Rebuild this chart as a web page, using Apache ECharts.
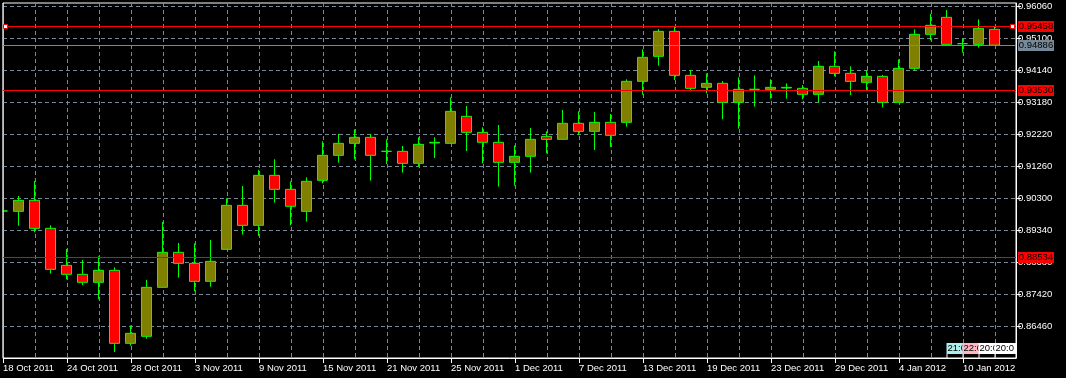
<!DOCTYPE html>
<html>
<head>
<meta charset="utf-8">
<script src="https://cdn.jsdelivr.net/npm/echarts@6/dist/echarts.min.js"></script>
<style>
html,body{margin:0;padding:0;background:#000;overflow:hidden;}
#c{width:1066px;height:378px;}
</style>
</head>
<body>
<div id="c"></div>
<script>
// ---------- DATA ----------
const dates = ['18 Oct 2011','19 Oct 2011','20 Oct 2011','21 Oct 2011','24 Oct 2011','25 Oct 2011','26 Oct 2011','27 Oct 2011','28 Oct 2011','31 Oct 2011',
'1 Nov 2011','2 Nov 2011','3 Nov 2011','4 Nov 2011','7 Nov 2011','8 Nov 2011','9 Nov 2011','10 Nov 2011','11 Nov 2011','14 Nov 2011',
'15 Nov 2011','16 Nov 2011','17 Nov 2011','18 Nov 2011','21 Nov 2011','22 Nov 2011','23 Nov 2011','24 Nov 2011','25 Nov 2011','28 Nov 2011',
'29 Nov 2011','30 Nov 2011','1 Dec 2011','2 Dec 2011','5 Dec 2011','6 Dec 2011','7 Dec 2011','8 Dec 2011','9 Dec 2011','12 Dec 2011',
'13 Dec 2011','14 Dec 2011','15 Dec 2011','16 Dec 2011','19 Dec 2011','20 Dec 2011','21 Dec 2011','22 Dec 2011','23 Dec 2011','26 Dec 2011',
'27 Dec 2011','28 Dec 2011','29 Dec 2011','30 Dec 2011','2 Jan 2012','3 Jan 2012','4 Jan 2012','5 Jan 2012','6 Jan 2012','9 Jan 2012',
'10 Jan 2012','11 Jan 2012','12 Jan 2012'];

const opens = [0.8991,0.8990,0.9023,0.8939,0.8828,0.8801,0.8777,0.8813,0.8594,0.8615,
0.8762,0.8867,0.8834,0.8780,0.8876,0.9008,0.8948,0.9098,0.9056,0.8990,
0.9083,0.9158,0.9194,0.9212,0.9170,0.9170,0.9134,0.9195,0.9194,0.9275,
0.9227,0.9197,0.9137,0.9155,0.9215,0.9206,0.9254,0.9230,0.9257,0.9257,
0.9380,0.9455,0.9530,0.9398,0.9362,0.9374,0.9317,0.9356,0.9356,0.9360,
0.9359,0.9341,0.9425,0.9404,0.9377,0.9395,0.9317,0.9419,0.9521,0.9572,
0.9493,0.9491,0.9536];

const closes = [0.8991,0.9023,0.8939,0.8816,0.8801,0.8777,0.8813,0.8594,0.8624,0.8762,
0.8867,0.8834,0.8780,0.8840,0.9008,0.8948,0.9098,0.9056,0.9005,0.9080,
0.9158,0.9194,0.9212,0.9158,0.9170,0.9134,0.9191,0.9197,0.9290,0.9227,
0.9197,0.9137,0.9155,0.9206,0.9206,0.9254,0.9230,0.9257,0.9218,0.9380,
0.9452,0.9530,0.9398,0.9359,0.9374,0.9317,0.9356,0.9356,0.9362,0.9362,
0.9341,0.9425,0.9404,0.9380,0.9395,0.9317,0.9419,0.9521,0.9548,0.9491,
0.9493,0.9539,0.94886];

const lows = [0.8991,0.8947,0.8927,0.8803,0.8786,0.8769,0.8726,0.8568,0.8587,0.8608,
0.8762,0.8791,0.8750,0.8764,0.8876,0.8920,0.8916,0.9016,0.8948,0.8959,
0.9074,0.9136,0.9146,0.9082,0.9132,0.9106,0.9124,0.9150,0.9194,0.9171,
0.9134,0.9064,0.9067,0.9106,0.9164,0.9206,0.9220,0.9174,0.9183,0.9244,
0.9340,0.9427,0.9384,0.9350,0.9344,0.9266,0.9238,0.9304,0.9328,0.9328,
0.9326,0.9317,0.9395,0.9339,0.9354,0.9302,0.9317,0.9413,0.9503,0.9491,
0.9466,0.9481,0.9486];

const highs = [0.8991,0.9036,0.9081,0.8948,0.8877,0.8844,0.8855,0.8822,0.8648,0.8784,
0.8958,0.8895,0.8894,0.8904,0.9029,0.9066,0.9114,0.9146,0.9080,0.9092,
0.9200,0.9222,0.9236,0.9222,0.9206,0.9186,0.9212,0.9212,0.9332,0.9306,
0.9242,0.9249,0.9188,0.9240,0.9230,0.9294,0.9290,0.9288,0.9282,0.9386,
0.9476,0.9537,0.9546,0.9414,0.9404,0.9381,0.9392,0.9398,0.9386,0.9374,
0.9369,0.9441,0.9470,0.9425,0.9413,0.9399,0.9446,0.9536,0.9582,0.9594,
0.9508,0.9566,0.9545];

// price-axis tick labels
const yTickValues = [0.86460,0.87420,0.88380,0.89340,0.90300,0.91260,0.92220,0.93180,0.94140,0.95100,0.96060];
// horizontal price lines (levels and bid)
const hLineValues = [0.95458, 0.94886, 0.93530, 0.88534];
// vertical-line time tags at the bottom right
const tagBars = [59, 60, 61, 62];
const tagLabels = ['21:00', '22:00', '20:00', '20:00'];

// ---------- STYLE ----------
const hLineColors = ['#ff0000', '#778899', '#ff0000', '#ff0000'];
const tagColors = ['#afeeee', '#ffb6c1', '#ffffff', '#ffffff'];
const FONT = 'Liberation Sans, Arial, sans-serif';
const FS = 9.5;
const GRIDC = '#778899';

const X_MIN = 1 / 32;            // left frame sits half a pixel right of bar 0 centre
const X_MAX = 63 + 11 / 32;      // right frame (chart shift)
const Y_MIN = 0.855, Y_MAX = 0.9615, Y_STEP = 0.0096;

const gridXVals = [];
for (let k = 1; k <= 31; k++) gridXVals.push(X_MIN + 2 * k);
const labelXVals = [];
for (let k = 0; k <= 15; k++) labelXVals.push(X_MIN + 4 * k);

const candleData = dates.map((d, i) => [i, opens[i], closes[i], lows[i], highs[i]]);

const chart = echarts.init(document.getElementById('c'), null, {renderer: 'canvas'});

const option = {
  backgroundColor: '#000000',
  animation: false,
  grid: {left: 3, top: 3, right: 50, bottom: 20, show: true, borderColor: '#ffffff', borderWidth: 1, backgroundColor: 'transparent'},
  xAxis: [
    {
      type: 'value', min: X_MIN, max: X_MAX, interval: 2, position: 'bottom',
      axisLine: {show: false, onZero: false},
      axisTick: {show: false, customValues: gridXVals},
      axisLabel: {show: false, customValues: gridXVals},
      splitLine: {show: true, lineStyle: {color: GRIDC, width: 1, type: [4, 3]}}
    },
    {
      type: 'value', min: X_MIN, max: X_MAX, interval: 4, position: 'bottom',
      axisLine: {show: true, onZero: false, lineStyle: {color: '#ffffff', width: 1}},
      axisTick: {show: true, length: 5, inside: false, lineStyle: {color: '#ffffff'}, customValues: labelXVals},
      axisLabel: {
        show: true, customValues: labelXVals, color: '#ffffff', fontFamily: FONT, fontSize: FS,
        align: 'left', margin: 5, showMinLabel: true, showMaxLabel: true,
        formatter: v => { const i = Math.round(v); return (Math.abs(v - i - X_MIN) < 1e-6 && dates[i]) ? dates[i] : ''; }
      },
      splitLine: {show: false}
    }
  ],
  yAxis: {
    type: 'value', position: 'right', min: Y_MIN, max: Y_MAX, interval: Y_STEP, scale: true,
    axisLine: {show: true, onZero: false, lineStyle: {color: '#ffffff', width: 1}},
    axisTick: {show: true, length: 5, inside: false, lineStyle: {color: '#ffffff'}, customValues: yTickValues},
    axisLabel: {
      show: true, customValues: yTickValues, color: '#ffffff', fontFamily: FONT, fontSize: FS, margin: 2,
      formatter: v => (v < 0.86 || v > 0.961) ? '' : v.toFixed(5)
    },
    splitLine: {show: true, lineStyle: {color: GRIDC, width: 1, type: [4, 3]}}
  },
  series: [{
    type: 'candlestick',
    xAxisIndex: 0, yAxisIndex: 0,
    data: candleData,
    encode: {x: 0, y: [1, 2, 3, 4]},
    barWidth: 10,
    clip: true,
    itemStyle: {
      color: '#808000', color0: '#ff0000',
      borderColor: '#00ff00', borderColor0: '#00ff00', borderColorDoji: '#00ff00',
      borderWidth: 1
    }
  }]
};
chart.setOption(option);

// ---------- overlays placed through the axes ----------
const px = v => chart.convertToPixel({xAxisIndex: 0}, v);
const py = v => chart.convertToPixel({yAxisIndex: 0}, v);
const gLeft = px(X_MIN), gRight = px(X_MAX), gTop = py(Y_MAX), gBottom = py(Y_MIN);
const g = [];

// mask the part of the first (partially shifted-out) bar left of the frame
g.push({type: 'rect', z: 90, shape: {x: 0, y: 0, width: gLeft - 0.5, height: gBottom + 1}, style: {fill: '#000000'}});
g.push({type: 'line', z: 91, shape: {x1: gLeft, y1: gTop, x2: gLeft, y2: gBottom}, style: {stroke: '#ffffff', lineWidth: 1}});

hLineValues.forEach((v, i) => {
  const y = Math.round(py(v));
  g.push({type: 'line', z: 95, shape: {x1: gLeft, y1: y + 0.5, x2: gRight, y2: y + 0.5}, style: {stroke: hLineColors[i], lineWidth: 1}});
  g.push({type: 'rect', z: 100, shape: {x: gRight + 2, y: y - 5, width: 36, height: 11}, style: {fill: hLineColors[i]}});
  g.push({type: 'text', z: 101, x: gRight + 20, y: y + 0.5,
    style: {text: v.toFixed(5), fill: '#000000', font: FS + 'px ' + FONT, align: 'center', verticalAlign: 'middle'}});
});

// selection markers on the top red line
const yTop = Math.round(py(hLineValues[0]));
g.push({type: 'rect', z: 102, shape: {x: gLeft + 0.5, y: yTop - 1.5, width: 4, height: 4}, style: {fill: '#ffffff', stroke: '#ff0000', lineWidth: 1}});
g.push({type: 'rect', z: 102, shape: {x: gRight - 5.5, y: yTop - 1.5, width: 4, height: 4}, style: {fill: '#ffffff', stroke: '#ff0000', lineWidth: 1}});

// time tags of vertical lines at bottom right
tagBars.forEach((b, j) => {
  const x0 = Math.round(px(b)) - 0.5;
  const last = j === tagBars.length - 1;
  const w = last ? (gRight - x0) : 28;
  g.push({type: 'rect', z: 110 + j, shape: {x: x0, y: gBottom - 15, width: w, height: 11}, style: {fill: tagColors[j]}});
  g.push({type: 'text', z: 110 + j, x: x0 + 1, y: gBottom - 9.5,
    style: {text: tagLabels[j], fill: '#000000', font: FS + 'px ' + FONT, align: 'left', verticalAlign: 'middle',
      width: w - 1, overflow: 'truncate', ellipsis: ''}});
  g.push({type: 'rect', z: 110 + j, shape: {x: x0, y: gBottom - 4, width: 1, height: 4}, style: {fill: '#ffffff'}});
});

chart.setOption({graphic: g});
</script>
</body>
</html>
